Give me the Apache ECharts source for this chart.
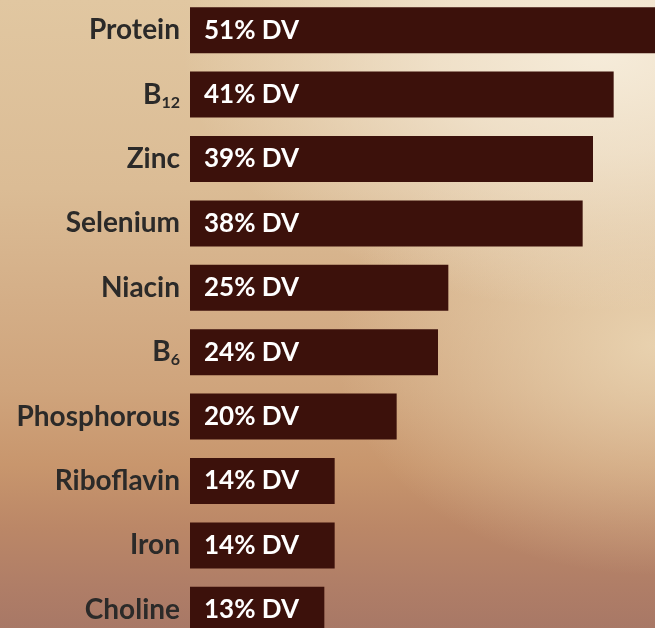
<!DOCTYPE html>
<html>
<head>
<meta charset="utf-8">
<script src="https://cdn.jsdelivr.net/npm/echarts@6/dist/echarts.min.js"></script>
<style>
html,body{margin:0;padding:0;overflow:hidden;}
#wrap{position:relative;width:655px;height:628px;overflow:hidden;
background:
 radial-gradient(ellipse 420px 260px at 92% 8%, rgba(246,236,218,1) 0%, rgba(246,236,218,0.7) 40%, rgba(246,236,218,0) 100%),
 radial-gradient(ellipse 320px 230px at 100% 55%, rgba(236,216,182,0.85) 0%, rgba(236,216,182,0) 100%),
 linear-gradient(to bottom, #e1c7a1 0%, #dbbc95 30%, #d4ae87 48%, #cfa47c 62%, #c8966d 74%, #bb8767 84%, #b07e67 93%, #a87866 100%);
}
#main{position:absolute;left:0;top:-2px;width:655px;height:644px;}
</style>
</head>
<body>
<div id="wrap"><div id="main"></div></div>
<script>
var categories = ['Protein', 'B12', 'Zinc', 'Selenium', 'Niacin', 'B6', 'Phosphorous', 'Riboflavin', 'Iron', 'Choline'];
var dvPercent = [51, 41, 39, 38, 25, 24, 20, 14, 14, 13];

var chart = echarts.init(document.getElementById('main'), null, {renderer: 'canvas'});
var FONT = 'Lato';
chart.setOption({
  backgroundColor: 'transparent',
  animation: false,
  grid: {left: 190, right: 0, top: 0, bottom: 0, containLabel: false},
  xAxis: {type: 'value', min: 0, max: 45, show: false},
  yAxis: {
    type: 'category', inverse: true, data: categories,
    axisLine: {show: false}, axisTick: {show: false}, splitLine: {show: false},
    axisLabel: {
      margin: 10,
      formatter: function (v) {
        var m = /^B(\d+)$/.exec(v);
        if (m) return '{b|B}{sub|' + m[1] + '}';
        return '{b|' + v + '}';
      },
      rich: {
        b: {fontFamily: FONT, fontWeight: 'bold', fontSize: 28, color: '#2b2a29', lineHeight: 32},
        sub: {fontFamily: FONT, fontWeight: 'bold', fontSize: 16, color: '#2b2a29', lineHeight: 15, verticalAlign: 'bottom'}
      }
    }
  },
  series: [{
    type: 'bar', data: dvPercent, barWidth: 46, clip: true,
    itemStyle: {color: '#3c110b'},
    label: {
      show: true, position: 'insideLeft', distance: 14,
      formatter: '{c}% DV',
      fontFamily: FONT, fontWeight: 'bold', fontSize: 26, color: '#ffffff'
    }
  }]
});
</script>
</body>
</html>
